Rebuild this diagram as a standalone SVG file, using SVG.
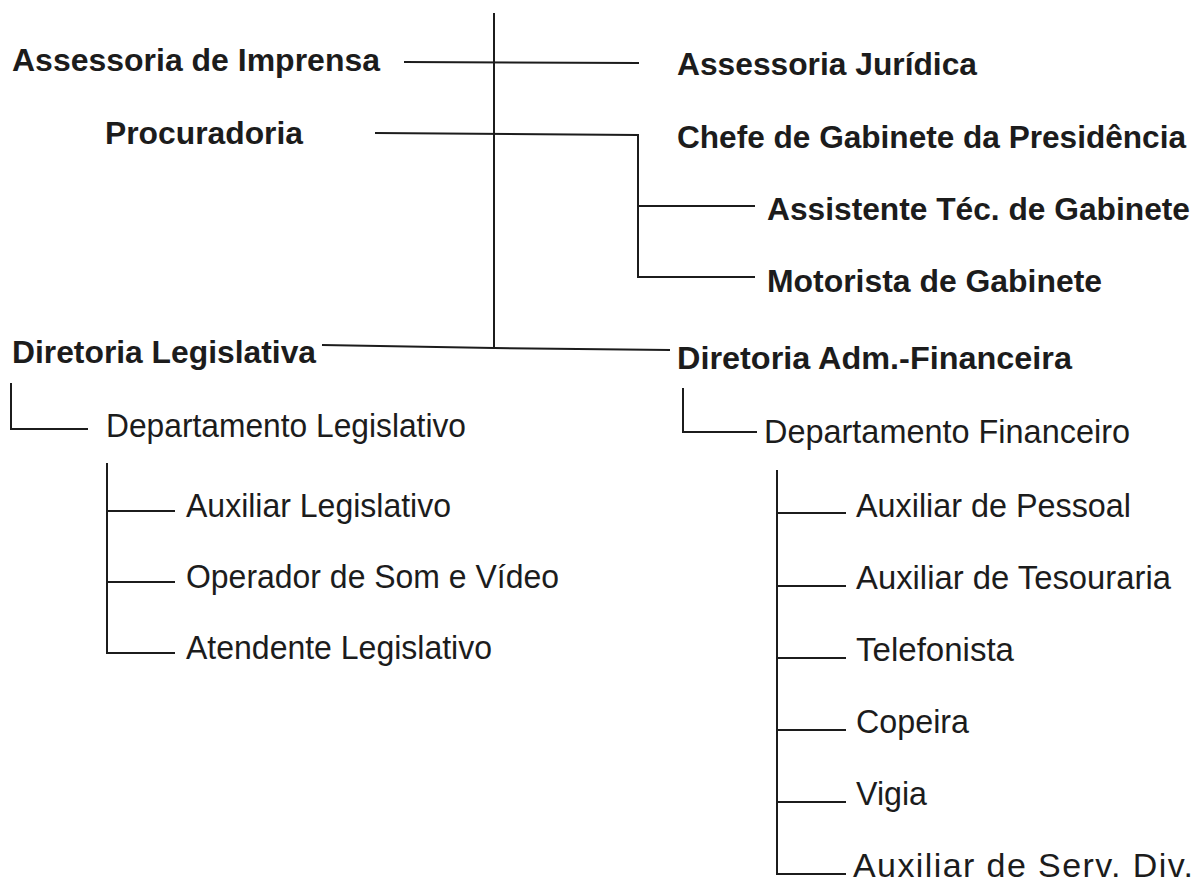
<svg xmlns="http://www.w3.org/2000/svg" width="1201" height="887" viewBox="0 0 1201 887">
<style>
.b{font-family:"Liberation Sans",Arial,sans-serif;font-weight:bold;font-size:32px;fill:#1c1c1c}
.r{font-family:"Liberation Sans",Arial,sans-serif;font-size:34px;fill:#1c1c1c}
.c{stroke:#1c1c1c;stroke-width:2;fill:none}
</style>
<rect width="1201" height="887" fill="#fff"/>
<g id="connectors">
<path class="c" d="M494 13 V348"/>
<path class="c" d="M404 62 L639 63"/>
<path class="c" d="M375 133 L638 135 V277 H755 M638 206 H755"/>
<path class="c" d="M322 345 L494 348 L670 350"/>
<path class="c" d="M11 383 V429 H88"/>
<path class="c" d="M107 463 V653 H175 M107 511 H175 M107 582 H175"/>
<path class="c" d="M683 388 V432 H757"/>
<path class="c" d="M777 470 V874 H846 M777 513 H846 M777 586 H846 M777 658 H846 M777 730 H846 M777 802 H846"/>
</g>
<g id="n-imprensa"><text class="b" x="12" y="71" textLength="368" lengthAdjust="spacingAndGlyphs">Assessoria de Imprensa</text></g>
<g id="n-juridica"><text class="b" x="677" y="75" textLength="300" lengthAdjust="spacingAndGlyphs">Assessoria Jurídica</text></g>
<g id="n-procuradoria"><text class="b" x="105" y="144" textLength="198" lengthAdjust="spacingAndGlyphs">Procuradoria</text></g>
<g id="n-chefe"><text class="b" x="677" y="148" textLength="509" lengthAdjust="spacingAndGlyphs">Chefe de Gabinete da Presidência</text></g>
<g id="n-assistente"><text class="b" x="767" y="220" textLength="423" lengthAdjust="spacingAndGlyphs">Assistente Téc. de Gabinete</text></g>
<g id="n-motorista"><text class="b" x="767" y="292" textLength="335" lengthAdjust="spacingAndGlyphs">Motorista de Gabinete</text></g>
<g id="n-dirleg"><text class="b" x="12" y="363" textLength="304" lengthAdjust="spacingAndGlyphs">Diretoria Legislativa</text></g>
<g id="n-diradm"><text class="b" x="677" y="369" textLength="395" lengthAdjust="spacingAndGlyphs">Diretoria Adm.-Financeira</text></g>
<g id="n-depleg"><text class="r" x="106" y="437" textLength="360" lengthAdjust="spacingAndGlyphs">Departamento Legislativo</text></g>
<g id="n-depfin"><text class="r" x="764" y="443" textLength="366" lengthAdjust="spacingAndGlyphs">Departamento Financeiro</text></g>
<g id="n-auxleg"><text class="r" x="186" y="517" textLength="265" lengthAdjust="spacingAndGlyphs">Auxiliar Legislativo</text></g>
<g id="n-operador"><text class="r" x="186" y="588" textLength="373" lengthAdjust="spacingAndGlyphs">Operador de Som e Vídeo</text></g>
<g id="n-atendente"><text class="r" x="186" y="659" textLength="306" lengthAdjust="spacingAndGlyphs">Atendente Legislativo</text></g>
<g id="n-pessoal"><text class="r" x="856" y="517" textLength="275" lengthAdjust="spacingAndGlyphs">Auxiliar de Pessoal</text></g>
<g id="n-tesouraria"><text class="r" x="856" y="589" textLength="315" lengthAdjust="spacingAndGlyphs">Auxiliar de Tesouraria</text></g>
<g id="n-telefonista"><text class="r" x="856" y="661" textLength="158" lengthAdjust="spacingAndGlyphs">Telefonista</text></g>
<g id="n-copeira"><text class="r" x="856" y="733" textLength="113" lengthAdjust="spacingAndGlyphs">Copeira</text></g>
<g id="n-vigia"><text class="r" x="856" y="805" textLength="71" lengthAdjust="spacingAndGlyphs">Vigia</text></g>
<g id="n-servdiv"><text class="r" x="853" y="877" textLength="340">Auxiliar de Serv. Div.</text></g>
</svg>
